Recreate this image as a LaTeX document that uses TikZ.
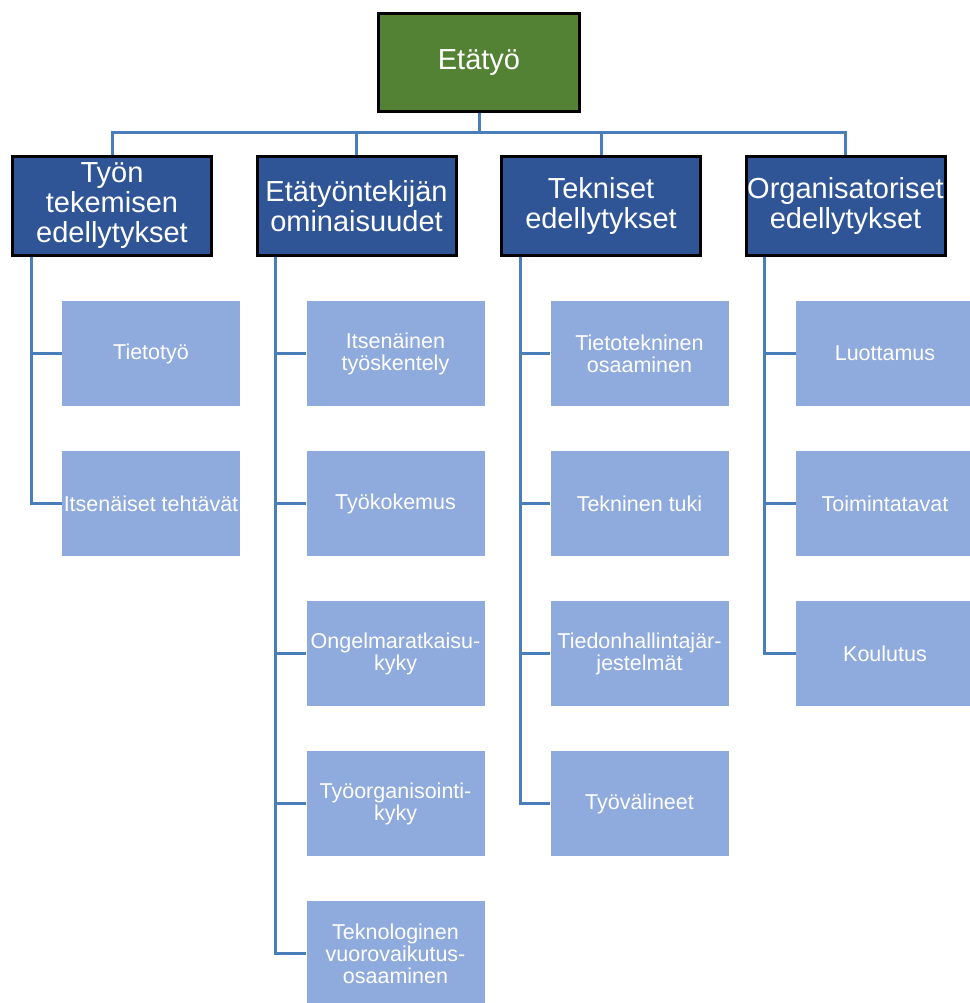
\documentclass[tikz,border=0pt]{standalone}
\usepackage{fontspec}
\setmainfont{Liberation Sans}
\definecolor{rootgreen}{RGB}{84,130,53}
\definecolor{catblue}{RGB}{47,85,151}
\definecolor{itemblue}{RGB}{143,170,220}
\definecolor{linkblue}{RGB}{74,126,187}
\tikzset{
  rootbox/.style={draw=black, line width=3pt, fill=rootgreen, text=white, minimum width=201pt, minimum height=98pt, inner sep=0pt, font=\fontsize{29}{30}\selectfont},
  catbox/.style={draw=black, line width=3pt, fill=catblue, text=white, minimum width=199pt, minimum height=99pt, inner sep=0pt, align=center, font=\fontsize{29}{30}\selectfont},
  itembox/.style={fill=itemblue, text=white, minimum width=178pt, minimum height=105pt, inner sep=0pt, align=center, font=\fontsize{21.5}{22}\selectfont},
  link/.style={draw=linkblue, line width=3pt},
}
\begin{document}
\begin{tikzpicture}[x=1pt, y=-1pt]
  \useasboundingbox (0,0) rectangle (969,1003);

  % top
  \node[rootbox] (root) at (479,62.5) {Etätyö};

  % categories
  \node[catbox] (cat1) at (112,206) {Työn\\tekemisen\\edellytykset};
  \node[catbox] (cat2) at (356.5,206) {Etätyöntekijän\\ominaisuudet};
  \node[catbox] (cat3) at (601,206) {Tekniset\\edellytykset};
  \node[catbox] (cat4) at (845.5,206) {Organisatoriset\\edellytykset};

  % Column 1
  \node[itembox] (c11) at (151,353.5) {Tietotyö};
  \node[itembox] (c12) at (151,503.5) {Itsenäiset tehtävät};

  % Column 2
  \node[itembox] (c21) at (395.5,353.5) {Itsenäinen\\työskentely};
  \node[itembox] (c22) at (395.5,503.5) {Työkokemus};
  \node[itembox] (c23) at (395.5,653.5) {Ongelmaratkaisu-\\kyky};
  \node[itembox] (c24) at (395.5,803.5) {Työorganisointi-\\kyky};
  \node[itembox] (c25) at (395.5,953.5) {Teknologinen\\vuorovaikutus-\\osaaminen};

  % Column 3
  \node[itembox] (c31) at (639.5,353.5) {Tietotekninen\\osaaminen};
  \node[itembox] (c32) at (639.5,503.5) {Tekninen tuki};
  \node[itembox] (c33) at (639.5,653.5) {Tiedonhallintajär-\\jestelmät};
  \node[itembox] (c34) at (639.5,803.5) {Työvälineet};

  % Column 4
  \node[itembox] (c41) at (885,353.5) {Luottamus};
  \node[itembox] (c42) at (885,503.5) {Toimintatavat};
  \node[itembox] (c43) at (885,653.5) {Koulutus};

  % links
  \foreach \c in {cat1,cat2,cat3,cat4}
    \draw[link] (root.south) -- ++(0,20) -| (\c.north);
  \foreach \c in {c11,c12}
    \draw[link] ([xshift=20pt]cat1.south west) |- (\c.west);
  \foreach \c in {c21,c22,c23,c24,c25}
    \draw[link] ([xshift=20pt]cat2.south west) |- (\c.west);
  \foreach \c in {c31,c32,c33,c34}
    \draw[link] ([xshift=20pt]cat3.south west) |- (\c.west);
  \foreach \c in {c41,c42,c43}
    \draw[link] ([xshift=20pt]cat4.south west) |- (\c.west);
\end{tikzpicture}
\end{document}
